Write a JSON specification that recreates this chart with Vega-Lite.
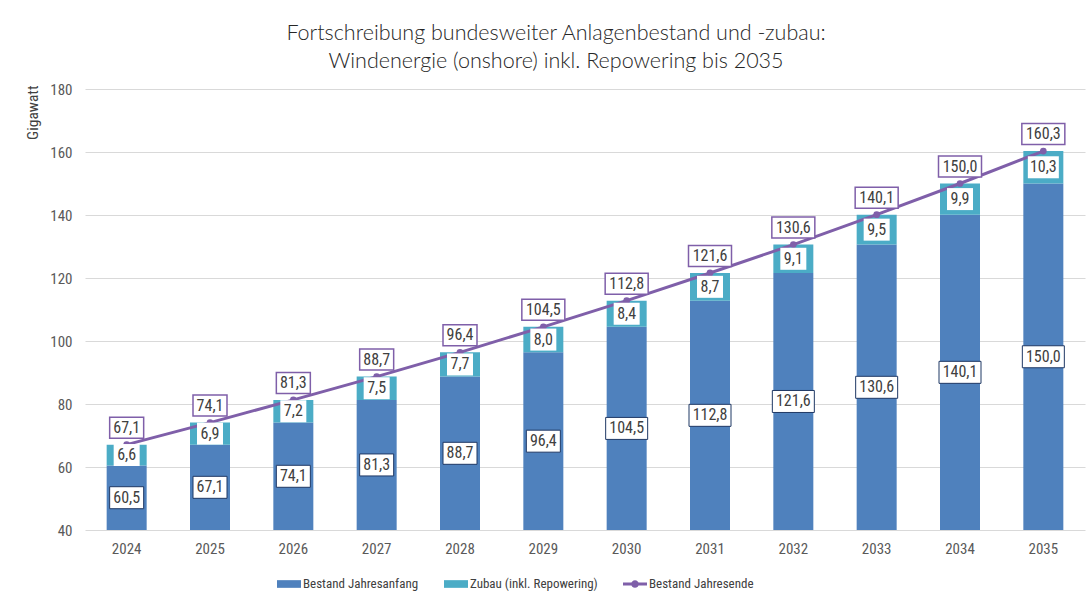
{
  "$schema": "https://vega.github.io/schema/vega-lite/v6.json",
  "width": 1000,
  "height": 441,
  "autosize": "none",
  "padding": {"left": 85, "top": 89, "right": 6, "bottom": 66},
  "background": "white",
  "title": {
    "text": ["Fortschreibung bundesweiter Anlagenbestand und -zubau:", "Windenergie (onshore) inkl. Repowering bis 2035"],
    "font": "Lato",
    "fontSize": 21.5,
    "fontWeight": 300,
    "color": "#262626",
    "lineHeight": 28,
    "anchor": "middle",
    "dx": -29,
    "offset": 10
  },
  "data": {
    "values": [
      {"year": "2024", "anfang": 60.5, "zubau": 6.6, "ende": 67.1},
      {"year": "2025", "anfang": 67.1, "zubau": 6.9, "ende": 74.1},
      {"year": "2026", "anfang": 74.1, "zubau": 7.2, "ende": 81.3},
      {"year": "2027", "anfang": 81.3, "zubau": 7.5, "ende": 88.7},
      {"year": "2028", "anfang": 88.7, "zubau": 7.7, "ende": 96.4},
      {"year": "2029", "anfang": 96.4, "zubau": 8.0, "ende": 104.5},
      {"year": "2030", "anfang": 104.5, "zubau": 8.4, "ende": 112.8},
      {"year": "2031", "anfang": 112.8, "zubau": 8.7, "ende": 121.6},
      {"year": "2032", "anfang": 121.6, "zubau": 9.1, "ende": 130.6},
      {"year": "2033", "anfang": 130.6, "zubau": 9.5, "ende": 140.1},
      {"year": "2034", "anfang": 140.1, "zubau": 9.9, "ende": 150.0},
      {"year": "2035", "anfang": 150.0, "zubau": 10.3, "ende": 160.3}
    ]
  },
  "transform": [
    {"calculate": "(40 + datum.anfang) / 2", "as": "amid"},
    {"calculate": "(datum.anfang + datum.ende) / 2", "as": "zmid"}
  ],
  "encoding": {
    "x": {
      "field": "year",
      "type": "ordinal",
      "scale": {"paddingInner": 0.52, "paddingOuter": 0.26},
      "axis": {
        "title": null,
        "labelAngle": 0,
        "ticks": false,
        "domain": false,
        "grid": false,
        "labelPadding": 11,
        "labelFontSize": 15,
        "labelColor": "#595959"
      }
    }
  },
  "layer": [
    {
      "mark": {"type": "bar"},
      "encoding": {
        "y": {
          "field": "anfang",
          "type": "quantitative",
          "scale": {"domain": [40, 180], "nice": false, "zero": false},
          "axis": {
            "title": "Gigawatt",
            "titleAnchor": "end",
            "titleY": -4,
            "titleFontWeight": "normal",
            "titleFontSize": 15.5,
            "titleColor": "#404040",
            "titlePadding": 9,
            "values": [40, 60, 80, 100, 120, 140, 160, 180],
            "format": "d",
            "domain": false,
            "ticks": false,
            "labelPadding": 13,
            "labelFontSize": 15,
            "labelColor": "#595959",
            "gridColor": "#D9D9D9",
            "gridWidth": 1
          }
        },
        "y2": {"datum": 40},
        "color": {
          "datum": "Bestand Jahresanfang",
          "scale": {
            "domain": ["Bestand Jahresanfang", "Zubau (inkl. Repowering)", "Bestand Jahresende"],
            "range": ["#4F81BD", "#4BACC6", "#7F5FA9"]
          },
          "legend": {
            "title": null,
            "orient": "none",
            "direction": "horizontal",
            "legendX": 192,
            "legendY": 483,
            "symbolSize": 576,
            "labelFontSize": 13,
            "labelColor": "#404040",
            "labelOffset": 2,
            "columnPadding": 25,
            "encode": {
              "symbols": {
                "update": {
                  "shape": {"signal": "datum.value === 'Bestand Jahresende' ? 'M-1,-0.12H1V0.12H-1Z M0.32,0 A0.32,0.32 0 1,1 -0.32,0 A0.32,0.32 0 1,1 0.32,0 Z' : 'M-1,-0.32H1V0.32H-1Z'"},
                  "fill": {"scale": "color", "field": "value"},
                  "stroke": {"value": "transparent"},
                  "strokeWidth": {"value": 0},
                  "opacity": {"value": 1},
                  "fillOpacity": {"value": 1},
                  "size": {"value": 576}
                }
              }
            }
          }
        }
      }
    },
    {
      "mark": {"type": "bar"},
      "encoding": {
        "y": {"field": "anfang", "type": "quantitative"},
        "y2": {"field": "ende"},
        "color": {"datum": "Zubau (inkl. Repowering)"}
      }
    },
    {
      "mark": {"type": "line", "strokeWidth": 3, "point": {"filled": true, "size": 45}},
      "encoding": {
        "y": {"field": "ende", "type": "quantitative"},
        "color": {"datum": "Bestand Jahresende"}
      }
    },
    {
      "mark": {
        "type": "point",
        "filled": false,
        "fill": "white",
        "fillOpacity": 1,
        "stroke": "#1F3864",
        "strokeWidth": 1,
        "opacity": 1,
        "size": 400,
        "shape": {"expr": "datum.anfang >= 100 ? 'M-2.1,-1.1H2.1V1.1H-2.1Z' : 'M-1.7,-1.1H1.7V1.1H-1.7Z'"}
      },
      "encoding": {"y": {"field": "amid", "type": "quantitative"}}
    },
    {
      "mark": {"type": "text", "fontSize": 16, "color": "#404040"},
      "encoding": {
        "y": {"field": "amid", "type": "quantitative"},
        "text": {"field": "anfang", "type": "quantitative", "format": ".1f"}
      }
    },
    {
      "mark": {
        "type": "point",
        "filled": true,
        "fill": "white",
        "fillOpacity": 1,
        "strokeWidth": 0,
        "opacity": 1,
        "size": 400,
        "shape": {"expr": "datum.zubau >= 10 ? 'M-1.55,-1.1H1.55V1.1H-1.55Z' : 'M-1.3,-1.1H1.3V1.1H-1.3Z'"}
      },
      "encoding": {"y": {"field": "zmid", "type": "quantitative"}}
    },
    {
      "mark": {"type": "text", "fontSize": 16, "color": "#404040"},
      "encoding": {
        "y": {"field": "zmid", "type": "quantitative"},
        "text": {"field": "zubau", "type": "quantitative", "format": ".1f"}
      }
    },
    {
      "mark": {
        "type": "point",
        "filled": false,
        "fill": "white",
        "fillOpacity": 1,
        "stroke": "#7F5FA9",
        "strokeWidth": 1.5,
        "opacity": 1,
        "size": 400,
        "yOffset": -17,
        "shape": {"expr": "datum.ende >= 100 ? 'M-2.15,-1.05H2.15V1.05H-2.15Z' : 'M-1.7,-1.05H1.7V1.05H-1.7Z'"}
      },
      "encoding": {"y": {"field": "ende", "type": "quantitative"}}
    },
    {
      "mark": {"type": "text", "fontSize": 16, "color": "#404040", "yOffset": -17},
      "encoding": {
        "y": {"field": "ende", "type": "quantitative"},
        "text": {"field": "ende", "type": "quantitative", "format": ".1f"}
      }
    }
  ],
  "config": {
    "font": "Roboto Condensed, Liberation Sans Narrow, Lato",
    "locale": {
      "number": {"decimal": ",", "thousands": ".", "grouping": [3], "currency": ["", " €"]}
    },
    "view": {"stroke": null}
  }
}
